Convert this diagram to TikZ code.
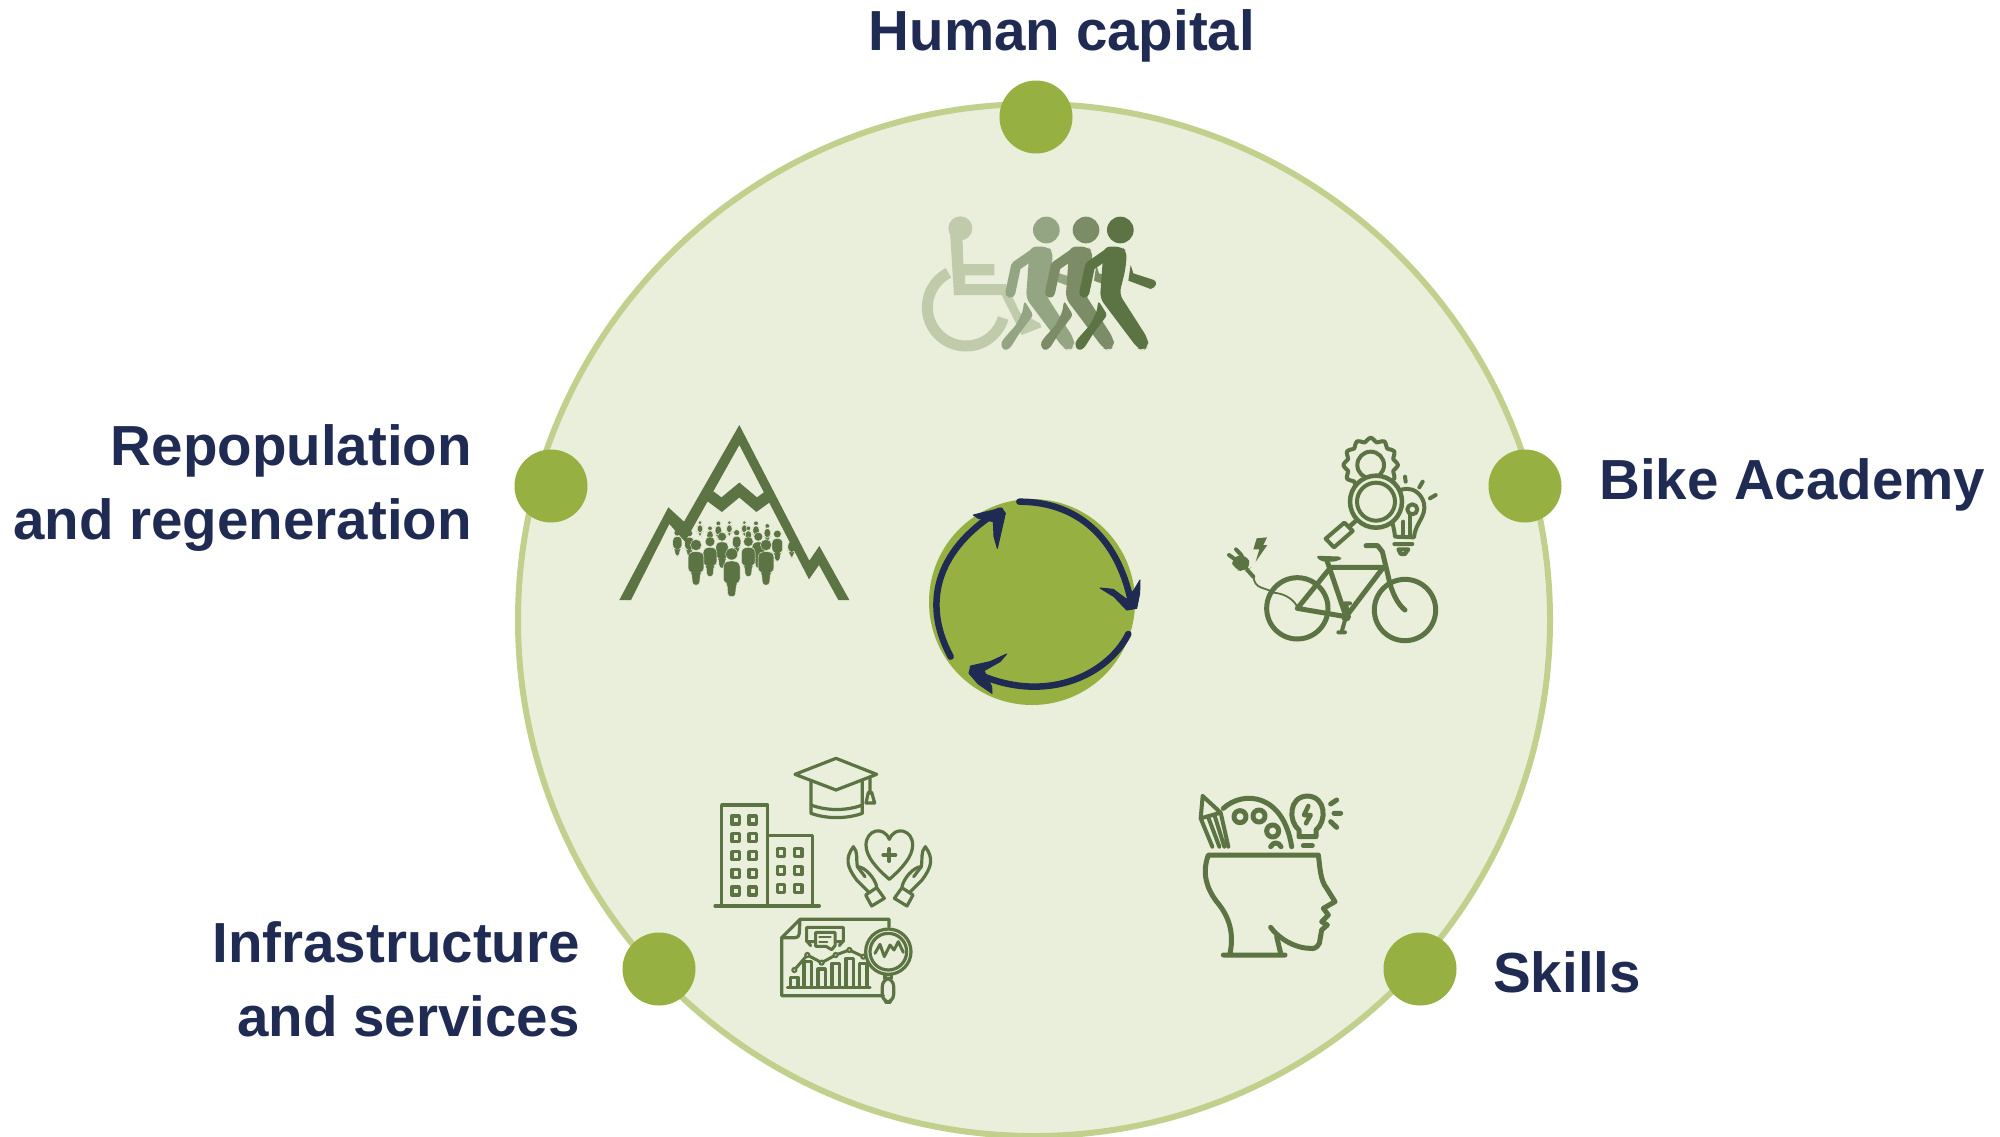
\documentclass[tikz,border=0pt]{standalone}
\usepackage{fontspec}
\setmainfont{Liberation Sans}
\definecolor{pale}{HTML}{E9EFDA}
\definecolor{rim}{HTML}{C2D08E}
\definecolor{leaf}{HTML}{97B042}
\definecolor{navy}{HTML}{1F2B52}
\definecolor{ink}{HTML}{5C7343}
\definecolor{wa}{HTML}{BFCBAB}
\definecolor{wb}{HTML}{94A583}
\definecolor{wc}{HTML}{7B8C66}
\tikzset{
  label text/.style={font=\fontsize{56.5}{74}\selectfont\bfseries,text=navy,inner sep=0pt},
  spot/.style={circle,fill=leaf,minimum size=73pt,inner sep=0pt},
  line icon/.style={draw=ink,line width=#1,line cap=round,line join=round},
  line icon/.default=4pt,
  arrow stroke/.style={draw=navy,line width=6.5pt,line cap=round},
  arrow head/.style={fill=navy,draw=navy,line width=1pt,line join=round}
}
% one walker: #1 x-offset, #2 colour
\newcommand{\walker}[2]{%
\begin{scope}[shift={(#1,0)}]
  \fill[#2] (752,225) -- (760,250) -- (822,270) .. controls (832,276) and (830,292) .. (812,297) -- (745,272) -- cycle;
  \fill[#2] (721,120) circle[radius=40pt];
  \draw[#2,line width=10pt,line cap=round,line join=round] (685,190) -- (630,228) -- (613,308);
  \fill[#2,rounded corners=6pt] (672,170) -- (725,170) -- (741,185) -- (736,240) -- (718,312) -- (803,445) -- (806,470) -- (788,482) -- (772,474) -- (660,325) -- (668,215) -- cycle;
  \fill[#2,rounded corners=3pt] (655,332) -- (682,375) -- (640,430) -- (612,475) -- (595,482) -- (584,465) -- (590,450) -- (630,405) -- (650,365) -- cycle;
\end{scope}}
% one small figure of the crowd: x, y, scale
\newcommand{\crowdman}[3]{%
\begin{scope}[shift={(#1,#2)},scale=#3]
  \filldraw[fill=ink,draw=pale,line width=.35pt] (0,0) circle[radius=18pt];
  \filldraw[fill=ink,draw=pale,line width=.35pt,rounded corners=3pt] (-11,21) -- (11,21) -- (25,28) -- (25,84) -- (14,88) -- (11,128) -- (-11,128) -- (-14,88) -- (-25,84) -- (-25,28) -- cycle;
\end{scope}}
\begin{document}
\begin{tikzpicture}[x=1pt,y=-1pt]
\useasboundingbox (0,0) rectangle (2000,1136);
\fill[white] (0,0) rectangle (2000,1136);
\node[circle,fill=pale,draw=rim,line width=6pt,minimum size=1032pt,inner sep=0pt] (disc) at (1034,620) {};
\node[spot] (d1) at (1036,117) {};
\node[spot] (d2) at (551,486) {};
\node[spot] (d3) at (1525,486) {};
\node[spot] (d4) at (659,969) {};
\node[spot] (d5) at (1420,969) {};
\node[label text,anchor=base] (t1) at (1062,50) {Human capital};
\node[label text,anchor=east,align=right] (t2) at (472,488) {Repopulation\\and regeneration};
\node[label text,anchor=base west] (t3) at (1599,499) {Bike Academy};
\node[label text,anchor=east,align=right] (t4) at (580,979) {Infrastructure\\and services};
\node[label text,anchor=base west] (t5) at (1493,992) {Skills};
\node[circle,fill=leaf,minimum size=206pt,inner sep=0pt] (hub) at (1032,602) {};

% ---- recycle arrows
\begin{scope}[shift={(910,480)},scale=1/3]
  \draw[arrow stroke] (328,65) .. controls (500,65) and (625,170) .. (665,375);
  \fill[arrow head] (690,300) -- (689,340) -- (680,385) -- (650,390) -- (612,350) -- (570,324) -- (610,328) -- (650,358) -- (672,330) -- cycle;
  \draw[arrow stroke] (655,462) .. controls (590,590) and (400,675) .. (195,578);
  \fill[arrow head] (290,522) -- (270,545) -- (222,572) -- (245,620) -- (246,640) -- (205,612) -- (177,580) -- (182,558) -- (240,545) -- cycle;
  \draw[arrow stroke] (122,530) .. controls (30,360) and (90,200) .. (268,92);
  \fill[arrow head] (190,105) -- (275,84) -- (286,100) -- (262,205) -- (252,170) -- (250,125) -- (205,115) -- cycle;
\end{scope}

% ---- wheelchair and walkers
\begin{scope}[shift={(880,190)},scale=1/3]
  \draw[wa,line width=11pt] ([shift={(117:116pt)}]258,352) arc[start angle=117,end angle=344,radius=116pt];
  \fill[wa] (241,115) circle[radius=36pt];
  \fill[wa] (210,125) -- (247,125) -- (250,222) -- (343,222) -- (343,256) -- (255,256) -- (255,282) -- (378,282) -- (420,368) -- (480,400) -- (484,412) -- (425,435) -- (408,400) -- (365,315) -- (222,315) -- cycle;
  \walker{-222}{wb}
  \walker{-103}{wc}
  \walker{0}{ink}
\end{scope}

% ---- mountain and crowd
\begin{scope}[shift={(600,410)},scale=1/3]
  \foreach \x/\y/\s in {300/338/.33,355/340/.38,388/338/.33,433/338/.33,468/340/.38,502/348/.38,330/355/.37,445/355/.37,232/368/.55,268/370/.55,575/385/.45,410/368/.5,532/372/.64,366/380/.74,475/380/.74,330/395/.82,445/395/.82,288/405/.94,498/405/.94,395/432/1}
    {\crowdman{\x}{\y}{\s}}
  \fill[ink] (58,570) -- (205,292) -- (252,335) -- (418,45) -- (628,452) -- (658,408) -- (748,570) -- (715,570) -- (657,465) -- (627,508) -- (418,105) -- (255,395) -- (208,342) -- (93,570) -- cycle;
  \draw[ink,line width=11.5pt,line join=miter] (330,258) -- (365,284) -- (418,240) -- (470,284) -- (506,258);
\end{scope}

% ---- bike academy
\begin{scope}[shift={(1210,430)},scale=1/3]
  \draw[line icon=4pt] plot[smooth cycle,domain=0:352.5,samples=48] ({482+(76+6*cos(12*\x))*cos(\x)},{105+(76+6*cos(12*\x))*sin(\x)});
  \draw[line icon=4pt] (482,105) circle[radius=40pt];
  % bulb
  \draw[line icon=4pt] (555,320) .. controls (550,270) and (530,240) .. (540,215) .. controls (555,165) and (625,160) .. (642,220) .. controls (650,260) and (615,280) .. (612,322) -- cycle;
  \draw[line icon=4pt] (607,238) circle[radius=15pt];
  \draw[line icon=4pt] (600,252) -- (600,320) (580,275) -- (580,320);
  \draw[line icon=4pt] (553,342) -- (607,342) (565,358) -- (595,358) -- (585,372) -- (572,372) -- cycle;
  \draw[line icon=4pt] (585,140) -- (587,155) (638,155) -- (628,172) (677,195) -- (660,205);
  % magnifier
  \filldraw[line icon=4.5pt,fill=pale] (498,215) circle[radius=78pt];
  \draw[line icon=4pt] (498,215) circle[radius=57pt];
  \draw[line icon=4.5pt] (438,272) -- (418,290);
  \draw[line icon=4pt] (403,278) -- (428,303) -- (372,352) -- (347,326) -- cycle;
  % bike
  \draw[line icon=5pt] (262,535) circle[radius=92pt] (585,540) circle[radius=92pt];
  \draw[line icon=5pt] (262,535) -- (408,560) -- (520,412) -- (362,412) -- (262,535);
  \draw[line icon=5pt] (352,395) -- (408,560);
  \draw[line icon=5pt] (468,347) -- (503,347) -- (517,365) -- (535,440) .. controls (545,490) and (565,525) .. (585,540);
  \draw[line icon=4pt] (408,560) -- (395,605) (385,607) -- (405,607) (408,520) -- (415,560) (404,520) -- (420,520);
  \fill[ink] (408,560) circle[radius=15pt];
  \fill[ink,rounded corners=5pt] (314,377) -- (400,380) -- (385,394) -- (335,396) -- cycle;
  % plug
  \fill[ink,rounded corners=8pt] (62,382) -- (110,372) -- (124,412) -- (104,424) -- (72,420) -- cycle;
  \draw[line icon=4pt] (57,375) -- (75,388) (78,358) -- (95,376) (112,420) -- (130,440);
  \draw[line icon=1.8pt] (130,440) .. controls (135,480) and (165,470) .. (190,488) .. controls (215,490) and (245,500) .. (262,530);
  \fill[ink] (140,325) -- (171,322) -- (160,345) -- (172,345) -- (137,395) -- (148,358) -- (130,358) -- cycle;
\end{scope}

% ---- skills head
\begin{scope}[shift={(1180,780)},scale=1/3]
  \draw[line icon=5pt] (130,525) -- (315,525) (150,520) .. controls (165,450) and (140,400) .. (110,365) .. controls (80,325) and (65,280) .. (85,225) -- (415,225) .. controls (420,260) and (420,300) .. (440,325) -- (465,365) -- (430,385) -- (445,405) -- (425,425) -- (442,435) -- (425,450) -- (418,490) .. controls (410,505) and (400,507) .. (390,505) .. controls (350,505) and (300,480) .. (272,442);
  \draw[line icon=5pt] (290,470) -- (302,520);
  \draw[line icon=4pt] (68,48) -- (62,115) -- (97,200) (68,48) -- (122,98) -- (145,200) (62,115) -- (122,98) (84,110) -- (118,200) (103,104) -- (133,200);
  \draw[line icon=5pt] (130,85) .. controls (190,30) and (310,40) .. (335,200);
  \draw[line icon=5pt] (180,110) circle[radius=18pt] (237,108) circle[radius=18pt] (278,153) circle[radius=18pt];
  \draw[line icon=5pt] (272,200) .. controls (280,185) and (295,185) .. (303,200);
  \draw[line icon=5pt] (357,170) -- (357,150) .. controls (325,125) and (325,50) .. (382,48) .. controls (440,50) and (440,125) .. (408,150) -- (408,170) -- cycle;
  \draw[line icon=5pt] (370,197) -- (397,197);
  \draw[line icon=4.5pt] (385,78) -- (372,105) -- (392,105) -- (378,130);
  \draw[line icon=5pt] (452,72) -- (470,60) (462,100) -- (482,100) (452,125) -- (470,142);
\end{scope}

% ---- infrastructure and services
\begin{scope}[shift={(700,745)},scale=1/3]
  % cap
  \draw[line icon=3.2pt] (285,88) -- (408,40) -- (530,88) -- (408,135) -- cycle;
  \draw[line icon=3.2pt] (333,110) -- (333,205) .. controls (380,222) and (440,222) .. (487,205) -- (487,110);
  \draw[line icon=3.2pt] (333,180) .. controls (380,198) and (440,198) .. (487,180);
  \draw[line icon=3.2pt] (510,95) -- (510,145) (505,142) -- (515,142) -- (524,174) -- (498,174) -- cycle;
  % buildings
  \draw[line icon=3.2pt] (65,480) -- (65,180) -- (203,180) -- (203,480) (203,272) -- (338,272) -- (338,480) (45,483) -- (358,483);
  \foreach \x in {107,158} \foreach \y in {225,278,332,385,438}
    \draw[line icon=3.4pt] (\x-11,\y-12) rectangle (\x+11,\y+12);
  \foreach \x in {243,295} \foreach \y in {323,377,431}
    \draw[line icon=3.4pt] (\x-11,\y-12) rectangle (\x+11,\y+12);
  % heart in hands
  \draw[line icon=3.2pt] (568,403) .. controls (530,370) and (498,335) .. (498,300) .. controls (498,255) and (550,240) .. (568,283) .. controls (586,240) and (638,255) .. (638,300) .. controls (638,335) and (606,370) .. (568,403) -- cycle;
  \draw[line icon=4pt] (568,312) -- (568,348) (550,330) -- (586,330);
  \foreach \m/\o in {1/0,-1/1136} {
  \begin{scope}[shift={(\o,0)},xscale=\m]
    \draw[line icon=3.2pt] (497,450) -- (530,428) -- (553,460) -- (515,483) -- cycle;
    \draw[line icon=3.2pt] (505,440) -- (470,405) .. controls (440,365) and (435,340) .. (460,305) .. controls (475,320) and (468,345) .. (472,365) .. controls (495,365) and (525,400) .. (530,425);
    \draw[line icon=3.2pt] (472,365) -- (495,395);
  \end{scope}}
  % report
  \draw[line icon=3.2pt] (550,752) -- (245,752) -- (245,578) -- (300,523) -- (567,523) -- (567,545);
  \draw[line icon=3.2pt] (245,578) -- (285,578) .. controls (295,578) and (298,570) .. (298,560) -- (300,523);
  \draw[line icon=3pt] (345,590) -- (320,590) -- (320,547) -- (430,547) -- (430,590) -- (410,590) (322,590) -- (332,602) (428,590) -- (418,602);
  \filldraw[line icon=3pt,fill=pale] (347,562) -- (405,562) -- (405,602) -- (395,614) -- (378,604) -- (347,604) -- cycle;
  \draw[line icon=2.2pt] (358,576) -- (392,576) (358,590) -- (382,590);
  \foreach \x/\y in {283/697,323/650,365/672,407/655,449/640,490/655}
    \draw[line icon=3.2pt] (\x-11,725) -- (\x-11,\y) -- (\x+11,\y) -- (\x+11,725);
  \draw[line icon=3.2pt] (262,727) -- (510,727);
  \draw[line icon=3pt] (283,675) -- (322,630) -- (365,653) -- (407,630) -- (448,615) -- (490,635);
  \foreach \x/\y in {283/675,322/630,365/653,407/630,448/615,490/635}
    \filldraw[line icon=2.2pt,fill=pale] (\x,\y) circle[radius=6pt];
  \filldraw[line icon=3.2pt,fill=pale] (565,620) circle[radius=68pt];
  \draw[line icon=3.2pt] (565,620) circle[radius=55pt];
  \draw[line icon=3pt] (525,625) -- (540,598) -- (553,635) -- (570,600) -- (582,615) -- (595,590) -- (610,622);
  \draw[line icon=3.2pt] (555,688) -- (555,700) (575,688) -- (575,700);
  \draw[line icon=3.2pt,rounded corners=8pt] (547,700) -- (581,700) -- (581,772) -- (547,772) -- cycle;
\end{scope}
\end{tikzpicture}
\end{document}
